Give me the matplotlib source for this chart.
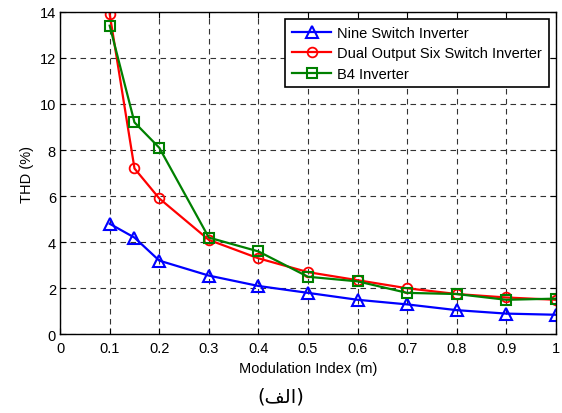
import numpy as np
import matplotlib.pyplot as plt

plt.rcParams['font.family'] = ['Liberation Sans', 'DejaVu Sans']

m = [0.1, 0.15, 0.2, 0.3, 0.4, 0.5, 0.6, 0.7, 0.8, 0.9, 1.0]
nine = [4.8, 4.2, 3.2, 2.55, 2.1, 1.8, 1.5, 1.3, 1.05, 0.9, 0.85]
dual = [13.9, 7.2, 5.9, 4.1, 3.3, 2.7, 2.35, 2.0, 1.75, 1.6, 1.5]
b4 = [13.4, 9.2, 8.1, 4.2, 3.6, 2.5, 2.3, 1.8, 1.75, 1.5, 1.55]
labels = ['Nine Switch Inverter', 'Dual Output Six Switch Inverter', 'B4 Inverter']

fig = plt.figure(figsize=(5.62, 4.14), dpi=100)
ax = fig.add_axes([0.107, 0.19, 0.882, 0.779])

ax.plot(m, nine, 'b-^', mfc='none', ms=8, mew=1.5, lw=1.6, label=labels[0])
ax.plot(m, dual, 'r-o', mfc='none', ms=7, mew=1.3, lw=1.6, label=labels[1])
ax.plot(m, b4, '-s', color='green', mfc='none', ms=7, mew=1.5, lw=1.6, label=labels[2])

ax.set_xlim(0, 1)
ax.set_ylim(0, 14)
ax.set_xticks(np.arange(0, 1.01, 0.1))
ax.set_xticklabels(['0', '0.1', '0.2', '0.3', '0.4', '0.5', '0.6', '0.7', '0.8', '0.9', '1'])
ax.set_yticks(range(0, 15, 2))
ax.tick_params(direction='in', labelsize=10.5, top=True, right=True, length=4, pad=3)
ax.tick_params(axis='x', pad=5)
ax.grid(True, color='#333333', linestyle=(0, (5, 4)), lw=0.8)
ax.set_xlabel('Modulation Index (m)', fontsize=10.5, labelpad=4)
ax.set_ylabel('THD (%)', fontsize=10.5)
for s in ax.spines.values():
    s.set_linewidth(1.0)

leg = ax.legend(loc='upper right', fontsize=10.5, fancybox=False, framealpha=1,
                edgecolor='black', borderaxespad=0.5, handlelength=2.7,
                handletextpad=0.4, labelspacing=0.45, borderpad=0.45)
leg.get_frame().set_linewidth(1.2)

# caption "(الف)" written in shaped presentation forms
fig.text(0.5, 0.04, '(\uFED2\uFEDF\uFE8D)', ha='center', va='center',
         fontsize=14, family=['DejaVu Sans'])

fig.savefig('out.png', dpi=100)
